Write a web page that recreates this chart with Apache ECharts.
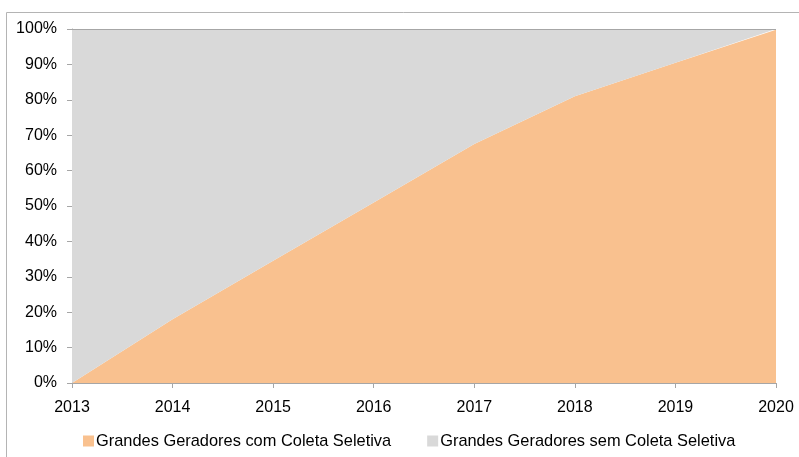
<!DOCTYPE html>
<html>
<head>
<meta charset="utf-8">
<script src="https://cdn.jsdelivr.net/npm/echarts@6/dist/echarts.min.js"></script>
<style>
  html, body { margin: 0; padding: 0; background: #fff; }
  #main { width: 799px; height: 457px; }
</style>
</head>
<body>
<div id="main"></div>
<script>
// anos e percentuais
let anos = ['2013', '2014', '2015', '2016', '2017', '2018', '2019', '2020'];
let comColeta = [0, 18, 34.5, 51, 67.5, 81, 90.5, 99.8];
let semColeta = [100, 82, 65.5, 49, 32.5, 19, 9.5, 0.2];
let nomes = ['Grandes Geradores com Coleta Seletiva', 'Grandes Geradores sem Coleta Seletiva'];

let chart = echarts.init(document.getElementById('main'), null, { renderer: 'canvas' });

let fonte = 'Liberation Sans, Arial, sans-serif';

let option = {
  animation: false,
  textStyle: { fontFamily: fonte },
  graphic: [{
    type: 'rect',
    shape: { x: 6.5, y: 12.5, width: 820, height: 480 },
    style: { fill: 'none', stroke: '#b4b4b4', lineWidth: 1 },
    silent: true
  }, {
    type: 'line',
    shape: { x1: 72, y1: 29.5, x2: 776, y2: 29.5 },
    style: { stroke: '#a6a6a6', lineWidth: 1 },
    z: 10,
    silent: true
  }],
  grid: { left: 72, right: 23, top: 29, bottom: 74 },
  legend: {
    left: 78,
    top: 428,
    itemWidth: 11,
    itemHeight: 11,
    itemGap: 36,
    icon: 'rect',
    textStyle: { fontSize: 16.4, color: '#000', fontFamily: fonte, padding: [0, 0, 0, -3] },
    data: nomes
  },
  xAxis: {
    type: 'category',
    data: anos,
    boundaryGap: false,
    axisLine: { lineStyle: { color: '#a6a6a6', width: 1 } },
    axisTick: { show: true, length: 5, lineStyle: { color: '#a6a6a6' } },
    axisLabel: { color: '#000', fontSize: 16, margin: 17, fontFamily: fonte },
    splitLine: { show: false }
  },
  yAxis: {
    type: 'value',
    min: 0,
    max: 100,
    interval: 10,
    axisLine: { show: true, lineStyle: { color: '#a6a6a6', width: 1 } },
    axisTick: { show: true, length: 5, lineStyle: { color: '#a6a6a6' } },
    axisLabel: { color: '#000', fontSize: 16, margin: 15, formatter: '{value}%', fontFamily: fonte },
    splitLine: { show: false }
  },
  series: [{
    name: nomes[0],
    type: 'line',
    stack: 'total',
    data: comColeta,
    symbol: 'none',
    lineStyle: { width: 0 },
    areaStyle: { color: '#f9c18f', opacity: 1 },
    itemStyle: { color: '#f9c18f' }
  }, {
    name: nomes[1],
    type: 'line',
    stack: 'total',
    data: semColeta,
    symbol: 'none',
    lineStyle: { width: 0 },
    areaStyle: { color: '#d9d9d9', opacity: 1 },
    itemStyle: { color: '#d9d9d9' }
  }]
};

chart.setOption(option);
</script>
</body>
</html>
